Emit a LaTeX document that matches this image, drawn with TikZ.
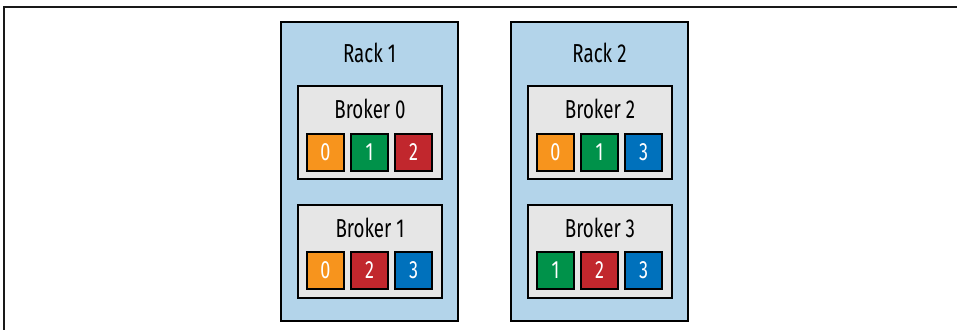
\documentclass[tikz,border=0pt]{standalone}
\usepackage{fontspec}
\setmainfont{Fira Sans}[FakeStretch=0.72]
\definecolor{rackblue}{HTML}{B3D4EA}
\definecolor{brokergray}{HTML}{E6E6E6}
\definecolor{porange}{HTML}{F7941D}
\definecolor{pgreen}{HTML}{00924A}
\definecolor{pred}{HTML}{C1272D}
\definecolor{pblue}{HTML}{0071BC}
\tikzset{
  rackbox/.style={draw=black, fill=rackblue, line width=2.5pt, minimum width=177pt, minimum height=299pt, inner sep=0pt},
  brokerbox/.style={draw=black, fill=brokergray, line width=2pt, minimum width=144pt, minimum height=93pt, inner sep=0pt},
  partbox/.style={draw=black, line width=2pt, minimum width=37pt, minimum height=37pt, inner sep=0pt, text=white, font=\fontsize{25}{27}\selectfont},
  lbl/.style={anchor=base, inner sep=0pt, font=\fontsize{26}{28}\selectfont}
}
\begin{document}
\begin{tikzpicture}[x=1pt,y=-1pt]
\useasboundingbox (0,0) rectangle (957,330);
\coordinate (tl) at (4,7);
\coordinate (tr) at (957,7);
\coordinate (bl) at (4,330);
\draw[line width=1.3pt, black!90] (tr) -- (tl) -- (bl);

% Rack 1
\node[rackbox] (rack1) at (369.5,171.5) {};
\node[lbl] (rack1lbl) at (369.5,62) {Rack 1};
\node[brokerbox] (b0) at (370,132.5) {};
\node[lbl] (b0lbl) at (370,118) {Broker 0};
\node[partbox, fill=porange] (b0p0) at (325.5,152) {0};
\node[partbox, fill=pgreen] (b0p1) at (369.5,152) {1};
\node[partbox, fill=pred] (b0p2) at (413.5,152) {2};
\node[brokerbox] (b1) at (370,251.5) {};
\node[lbl] (b1lbl) at (370,237) {Broker 1};
\node[partbox, fill=porange] (b1p0) at (325.5,270.5) {0};
\node[partbox, fill=pred] (b1p2) at (369.5,270.5) {2};
\node[partbox, fill=pblue] (b1p3) at (413.5,270.5) {3};

% Rack 2
\node[rackbox] (rack2) at (599.5,171.5) {};
\node[lbl] (rack2lbl) at (599.5,62) {Rack 2};
\node[brokerbox] (b2) at (600,132.5) {};
\node[lbl] (b2lbl) at (600,118) {Broker 2};
\node[partbox, fill=porange] (b2p0) at (555.5,152) {0};
\node[partbox, fill=pgreen] (b2p1) at (599.5,152) {1};
\node[partbox, fill=pblue] (b2p3) at (643.5,152) {3};
\node[brokerbox] (b3) at (600,251.5) {};
\node[lbl] (b3lbl) at (600,237) {Broker 3};
\node[partbox, fill=pgreen] (b3p1) at (555.5,270.5) {1};
\node[partbox, fill=pred] (b3p2) at (599.5,270.5) {2};
\node[partbox, fill=pblue] (b3p3) at (643.5,270.5) {3};
\end{tikzpicture}
\end{document}
